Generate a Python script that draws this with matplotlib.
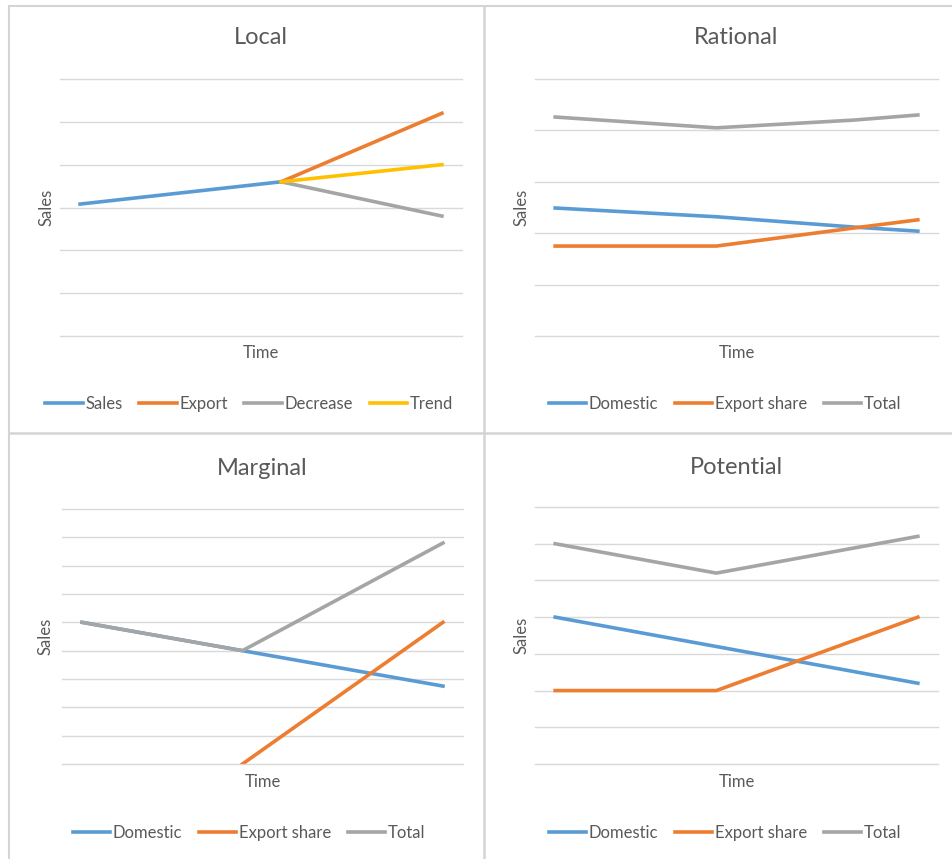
import numpy as np
import matplotlib
matplotlib.use("Agg")
import matplotlib.pyplot as plt
from matplotlib.lines import Line2D

plt.rcParams['font.family'] = ['Lato', 'DejaVu Sans']

W, H = 953, 859
TEXT = "#595959"
GRID = "#D9D9D9"
BLUE, ORANGE, GREY, YELLOW = "#5B9BD5", "#ED7D31", "#A5A5A5", "#FFC000"

# Local
local_x = [0.5, 5.5]
local_x2 = [5.5, 9.5]
local_sales = [3.08, 3.6]
local_export = [3.6, 5.2]
local_decrease = [3.6, 2.8]
local_trend = [3.6, 4.0]

# Rational
rational_x = [0.5, 4.5, 7.9, 9.5]
rational_domestic = [2.49, 2.32, 2.12, 2.04]
rational_export = [1.75, 1.75, 2.10, 2.26]
rational_total = [4.26, 4.05, 4.20, 4.30]

# Marginal
marginal_x = [0.5, 4.5, 9.5]
marginal_domestic = [5.0, 4.0, 2.75]
marginal_export = [np.nan, 0.0, 5.0]
marginal_total = [5.0, 4.0, 7.8]

# Potential
potential_x = [0.5, 4.5, 9.5]
potential_domestic = [4.0, 3.2, 2.2]
potential_export = [2.0, 2.0, 4.0]
potential_total = [6.0, 5.2, 6.2]

three_labels = ["Domestic", "Export share", "Total"]

fig = plt.figure(figsize=(W / 100, H / 100), dpi=100)


def px_axes(x0, y0, x1, y1):
    return fig.add_axes([x0 / W, 1 - y1 / H, (x1 - x0) / W, (y1 - y0) / H])


def style(ax, n_grid, title, title_y, time_y, sales_x):
    ax.set_xlim(0, 10)
    ax.set_ylim(0, n_grid - 1)
    ax.set_yticks(range(n_grid))
    ax.grid(axis="y", color=GRID, linewidth=1)
    ax.set_axisbelow(True)
    for gl in ax.get_ygridlines():
        gl.set_clip_on(False)
    for s in ax.spines.values():
        s.set_visible(False)
    ax.tick_params(left=False, bottom=False, labelleft=False, labelbottom=False)
    ax.set_xticks([])
    pos = ax.get_position()
    cx = (pos.x0 + pos.x1) / 2
    cy = (pos.y0 + pos.y1) / 2
    fig.text(cx, 1 - title_y / H, title, ha="center", va="center", fontsize=17, color=TEXT)
    fig.text(cx, 1 - time_y / H, "Time", ha="center", va="center", fontsize=12, color=TEXT)
    fig.text(sales_x / W, cy, "Sales", ha="center", va="center", rotation=90, fontsize=12, color=TEXT)


def legend(ax, colors, labels, leg_y, cx):
    handles = [Line2D([], [], color=c, linewidth=2.6) for c in colors]
    fig.legend(handles, labels, loc="center", bbox_to_anchor=(cx / W, 1 - leg_y / H),
               ncol=len(labels), frameon=False, fontsize=12, labelcolor=TEXT,
               handlelength=2.25, handletextpad=0.15, columnspacing=1.0)


lw = 2.6

# Local
ax = px_axes(60, 79, 462, 336)
ax.plot(local_x, local_sales, color=BLUE, lw=lw)
ax.plot(local_x2, local_decrease, color=GREY, lw=lw)
ax.plot(local_x2, local_export, color=ORANGE, lw=lw)
ax.plot(local_x2, local_trend, color=YELLOW, lw=lw)
style(ax, 7, "Local", 38, 353, 47)
legend(ax, [BLUE, ORANGE, GREY, YELLOW], ["Sales", "Export", "Decrease", "Trend"], 404, 249)

# Rational
ax = px_axes(535, 79, 938, 336)
ax.plot(rational_x, rational_domestic, color=BLUE, lw=lw)
ax.plot(rational_x, rational_export, color=ORANGE, lw=lw)
ax.plot(rational_x, rational_total, color=GREY, lw=lw)
style(ax, 6, "Rational", 38, 353, 522)
legend(ax, [BLUE, ORANGE, GREY], three_labels, 404, 725)

# Marginal
ax = px_axes(62, 509, 463, 764)
ax.plot(marginal_x, marginal_domestic, color=BLUE, lw=lw)
ax.plot(marginal_x, marginal_export, color=ORANGE, lw=lw)
ax.plot(marginal_x, marginal_total, color=GREY, lw=lw)
style(ax, 10, "Marginal", 468, 782, 46)
legend(ax, [BLUE, ORANGE, GREY], three_labels, 833, 249)

# Potential
ax = px_axes(535, 507, 938, 764)
ax.plot(potential_x, potential_domestic, color=BLUE, lw=lw)
ax.plot(potential_x, potential_export, color=ORANGE, lw=lw)
ax.plot(potential_x, potential_total, color=GREY, lw=lw)
style(ax, 8, "Potential", 467, 782, 522)
legend(ax, [BLUE, ORANGE, GREY], three_labels, 833, 725)

# panel borders
border = "#D4D4D4"
fig.add_artist(Line2D([9 / W, 9 / W], [0, 1 - 6 / H], color=border, lw=1.5))
fig.add_artist(Line2D([9 / W, 1], [1 - 6 / H, 1 - 6 / H], color=border, lw=1.5))
fig.add_artist(Line2D([484 / W, 484 / W], [0, 1 - 6 / H], color=border, lw=1.8))
fig.add_artist(Line2D([9 / W, 1], [1 - 433 / H, 1 - 433 / H], color=border, lw=1.8))

fig.savefig("out.png", dpi=100, facecolor="white")
